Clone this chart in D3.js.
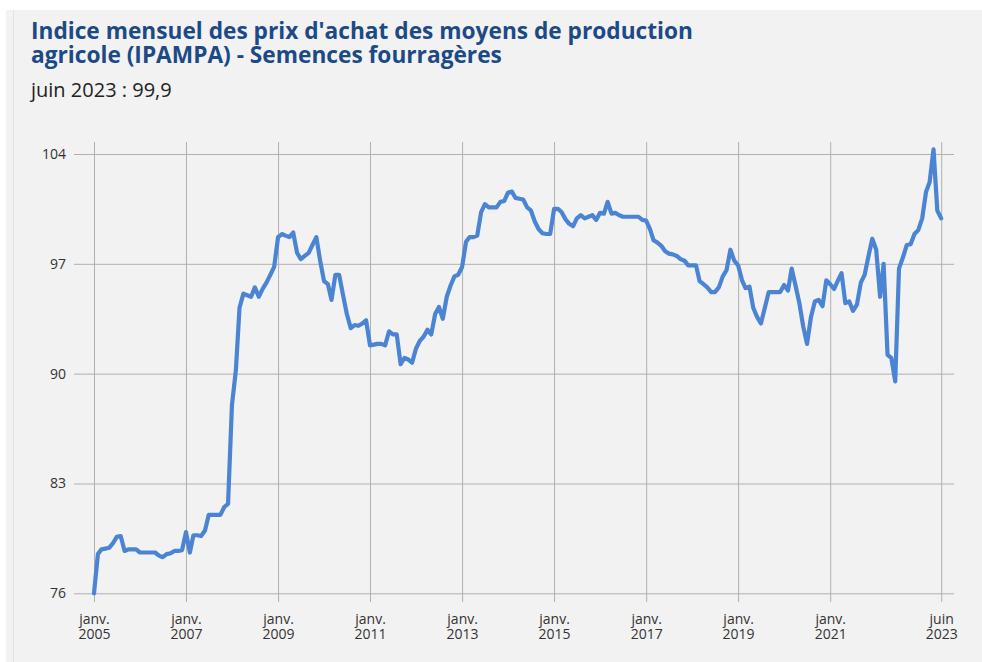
<!DOCTYPE html>
<html lang="fr">
<head>
<meta charset="utf-8">
<script src="https://cdn.jsdelivr.net/npm/d3@7"></script>
<style>
  html, body { margin: 0; padding: 0; background: #ffffff; }
  svg { display: block; font-family: "Open Sans", "Noto Sans", sans-serif; }
</style>
</head>
<body>
<svg id="chart" width="982" height="662"></svg>
<script>
// IPAMPA – Semences fourragères, indice mensuel de janvier 2005 à juin 2023
const firstMonth = new Date(2005, 0, 1);

const values = [
  // 2005
  76.0, 78.5, 78.8, 78.85, 78.9, 79.2, 79.6, 79.65, 78.7, 78.8, 78.8, 78.8,
  // 2006
  78.6, 78.6, 78.6, 78.6, 78.6, 78.4, 78.3, 78.5, 78.55, 78.7, 78.7, 78.75,
  // 2007
  79.9, 78.6, 79.7, 79.7, 79.65, 80.0, 81.0, 81.0, 81.0, 81.0, 81.5, 81.7,
  // 2008
  88.0, 90.2, 94.2, 95.1, 95.0, 94.9, 95.5, 94.9, 95.4, 95.8, 96.3, 96.8,
  // 2009
  98.7, 98.9, 98.8, 98.7, 99.0, 97.7, 97.3, 97.5, 97.7, 98.2, 98.7, 97.2,
  // 2010
  95.9, 95.7, 94.7, 96.3, 96.3, 95.0, 93.8, 92.9, 93.1, 93.05, 93.2, 93.4,
  // 2011
  91.8, 91.85, 91.9, 91.9, 91.8, 92.7, 92.5, 92.5, 90.6, 91.0, 90.9, 90.7,
  // 2012
  91.6, 92.1, 92.35, 92.8, 92.5, 93.8, 94.25, 93.5, 94.9, 95.6, 96.2, 96.3,
  // 2013
  96.8, 98.4, 98.7, 98.7, 98.8, 100.3, 100.8, 100.6, 100.6, 100.6, 100.95, 101.0,
  // 2014
  101.55, 101.6, 101.2, 101.15, 101.1, 100.6, 100.4, 99.7, 99.2, 98.95, 98.9, 98.9,
  // 2015
  100.5, 100.5, 100.3, 99.85, 99.55, 99.4, 99.9, 100.1, 99.9, 100.0, 100.1, 99.8,
  // 2016
  100.25, 100.2, 100.95, 100.2, 100.25, 100.1, 100.0, 100.0, 100.0, 100.0, 100.0, 99.8,
  // 2017
  99.75, 99.2, 98.5, 98.35, 98.15, 97.8, 97.65, 97.6, 97.5, 97.3, 97.2, 96.9,
  // 2018
  96.9, 96.9, 95.9, 95.7, 95.5, 95.2, 95.2, 95.5, 96.2, 96.6, 97.9, 97.2,
  // 2019
  96.9, 95.95, 95.45, 95.55, 94.2, 93.6, 93.2, 94.2, 95.2, 95.2, 95.2, 95.2,
  // 2020
  95.65, 95.3, 96.7, 95.6, 94.5, 93.0, 91.9, 93.6, 94.6, 94.7, 94.3, 95.95,
  // 2021
  95.7, 95.4, 95.9, 96.4, 94.5, 94.6, 94.0, 94.4, 95.8, 96.3, 97.5, 98.6,
  // 2022
  97.9, 94.9, 97.0, 91.2, 91.0, 89.5, 96.7, 97.4, 98.2, 98.25, 98.9, 99.15,
  // 2023
  99.9, 101.6, 102.2, 104.3, 100.4, 99.9
];

const yTicks = [76, 83, 90, 97, 104];
const xTickMonths = ["2005-01", "2007-01", "2009-01", "2011-01", "2013-01",
                     "2015-01", "2017-01", "2019-01", "2021-01", "2023-06"];
const xTickTop = ["janv.", "janv.", "janv.", "janv.", "janv.",
                  "janv.", "janv.", "janv.", "janv.", "juin"];
const xTickBottom = ["2005", "2007", "2009", "2011", "2013",
                     "2015", "2017", "2019", "2021", "2023"];

const titleLines = ["Indice mensuel des prix d'achat des moyens de production",
                    "agricole (IPAMPA) - Semences fourragères"];
const subtitle = "juin 2023 : 99,9";

const series = values.map((v, i) =>
  ({ date: new Date(firstMonth.getFullYear(), firstMonth.getMonth() + i, 1), value: v }));
const parseMonth = d3.timeParse("%Y-%m");
const xTickDates = xTickMonths.map(parseMonth);

const svg = d3.select("#chart");

// panel background
svg.append("rect")
  .attr("x", 6).attr("y", 10).attr("width", 976).attr("height", 652)
  .attr("fill", "#f2f2f2");
svg.append("line")
  .attr("x1", 13.5).attr("x2", 13.5).attr("y1", 10).attr("y2", 662)
  .attr("stroke", "#e2e2e2").attr("stroke-width", 1);

// title & subtitle
svg.append("g").selectAll("text").data(titleLines).join("text")
  .attr("x", 31).attr("y", (d, i) => 39 + i * 24)
  .attr("font-size", 22.7).attr("font-weight", 700).attr("fill", "#1c4a86")
  .text(d => d);

svg.append("text")
  .attr("x", 31).attr("y", 97)
  .attr("font-size", 20).attr("fill", "#222")
  .text(subtitle);

// plot frame
const plotLeft = 74, plotRight = 954, plotTop = 142, plotBottom = 602;
const x = d3.scaleTime()
  .domain([series[0].date, series[series.length - 1].date])
  .range([94, 941.2]);
const y = d3.scaleLinear()
  .domain([76, 104])
  .range([593.3, 154]);

// horizontal grid + y labels
const yAxis = svg.append("g")
  .attr("transform", `translate(${plotLeft},0)`)
  .call(d3.axisLeft(y).tickValues(yTicks).tickSize(-(plotRight - plotLeft)).tickPadding(8)
        .tickFormat(d3.format("d")));
yAxis.select(".domain").remove();
yAxis.selectAll(".tick line").attr("stroke", "#b0b0b0").attr("stroke-width", 1);
yAxis.selectAll(".tick text")
  .attr("font-size", 14).attr("fill", "#333")
  .attr("font-family", "'Open Sans', sans-serif");

// vertical grid + x labels
const xAxis = svg.append("g")
  .attr("transform", `translate(0,${plotBottom})`)
  .call(d3.axisBottom(x).tickValues(xTickDates).tickSize(-(plotBottom - plotTop)).tickPadding(0)
        .tickFormat(() => ""));
xAxis.select(".domain").remove();
xAxis.selectAll(".tick line").attr("stroke", "#b0b0b0").attr("stroke-width", 1);
xAxis.selectAll(".tick text").remove();
xAxis.selectAll(".tick").each(function (d, i) {
  const g = d3.select(this);
  [xTickTop[i], xTickBottom[i]].forEach((label, k) => {
    g.append("text")
      .attr("x", 0).attr("y", k === 0 ? 22 : 36.5)
      .attr("text-anchor", "middle")
      .attr("font-size", 14).attr("fill", "#333")
      .attr("font-family", "'Open Sans', sans-serif")
      .text(label);
  });
});

// series line
const line = d3.line()
  .x(d => x(d.date))
  .y(d => y(d.value));

svg.append("path")
  .datum(series)
  .attr("d", line)
  .attr("fill", "none")
  .attr("stroke", "#4a84d2")
  .attr("stroke-width", 4.2)
  .attr("stroke-linejoin", "round")
  .attr("stroke-linecap", "round");
</script>
</body>
</html>
